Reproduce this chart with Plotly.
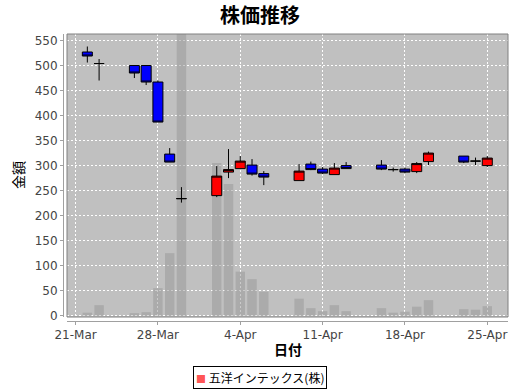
import plotly.graph_objects as go

# ---- data ----
dates = ["2012-03-22", "2012-03-23", "2012-03-26", "2012-03-27", "2012-03-28", "2012-03-29", "2012-03-30",
         "2012-04-02", "2012-04-03", "2012-04-04", "2012-04-05", "2012-04-06",
         "2012-04-09", "2012-04-10", "2012-04-11", "2012-04-12", "2012-04-13",
         "2012-04-16", "2012-04-17", "2012-04-18", "2012-04-19", "2012-04-20",
         "2012-04-23", "2012-04-24", "2012-04-25"]
open_ = [527, 504, 500, 500, 467, 323, 234, 240, 287, 294, 301, 284, 270, 303, 293, 282, 300,
         301, 292, 293, 288, 308, 319, 309, 300]
close = [519, 504, 485, 467, 387, 307, 234, 279, 292, 309, 283, 277, 289, 292, 285, 295, 294,
         293, 292, 287, 304, 325, 307, 309, 315]
high = [538, 513, 500, 500, 470, 335, 257, 299, 333, 319, 313, 289, 303, 308, 297, 305, 307,
        311, 296, 296, 307, 328, 319, 316, 319]
low = [506, 470, 475, 461, 387, 307, 226, 237, 275, 294, 280, 261, 270, 291, 283, 282, 294,
       291, 288, 285, 285, 301, 305, 301, 297]
volume = [1200, 4200, 1000, 1400, 11000, 25000, 150000, 61000, 52600, 17600, 14600, 9600,
          6800, 3000, 1800, 4200, 1800, 3000, 1200, 1600, 3600, 6200, 2600, 2400, 3800]

tick_dates = ["2012-03-21", "2012-03-28", "2012-04-04", "2012-04-11", "2012-04-18", "2012-04-25"]
tick_text = ["21-Mar", "28-Mar", "4-Apr", "11-Apr", "18-Apr", "25-Apr"]
y_ticks = list(range(0, 551, 50))

series_name = "五洋インテックス(株)"
series_color = "#FF5555"
title = "株価推移"
x_title = "日付"
y_title = "金額"

# ---- style ----
price_range = [-2.6, 563]
vol_scale = 200
x_range = ["2012-03-20 06:30", "2012-04-26 18:15"]
DAY = 86400000
tick_font = dict(family="DejaVu Sans", size=12, color="#444444")
cjk = "Noto Sans CJK JP"

fig = go.Figure()

fig.add_trace(go.Bar(
    x=dates, y=volume, width=0.8 * DAY,
    marker=dict(color="rgba(150,150,150,0.5)", line=dict(width=0)),
    showlegend=False, hoverinfo="skip", yaxis="y",
))

fig.add_trace(go.Candlestick(
    x=dates, open=open_, high=high, low=low, close=close, name=series_name,
    increasing=dict(fillcolor="#ff0000", line=dict(color="#000000", width=1)),
    decreasing=dict(fillcolor="#0000ff", line=dict(color="#000000", width=1)),
    whiskerwidth=0, showlegend=False, yaxis="y2",
))

legend_text = (f'<span style="color:{series_color};font-size:10px">■</span> {series_name}')

fig.update_layout(
    width=520, height=390,
    margin=dict(l=63, r=12, t=34, b=69, autoexpand=False),
    paper_bgcolor="white", plot_bgcolor="#c0c0c0",
    title=dict(text=title, x=0.5, xref="container", xanchor="center",
               y=1 - 16 / 390, yref="container", yanchor="middle",
               font=dict(family=cjk, size=20, color="#000000", weight="bold")),
    xaxis=dict(type="date", range=x_range, domain=[4 / 445, 1], anchor="free", position=0,
               tickvals=tick_dates, ticktext=tick_text, tickfont=tick_font,
               showline=True, linecolor="#a0a0a0", linewidth=1,
               ticks="outside", ticklen=3, tickcolor="#a0a0a0",
               showgrid=True, gridcolor="#ffffff", griddash="2px,2px", gridwidth=1,
               rangeslider=dict(visible=False), zeroline=False, automargin=False),
    yaxis=dict(visible=False, range=[price_range[0] * vol_scale, price_range[1] * vol_scale],
               domain=[4 / 287, 1], showgrid=False, automargin=False),
    yaxis2=dict(overlaying="y", side="left", anchor="free", position=0,
                range=price_range, tickvals=y_ticks, tickfont=tick_font,
                showline=True, linecolor="#a0a0a0", linewidth=1,
                ticks="outside", ticklen=3, tickcolor="#a0a0a0",
                showgrid=True, gridcolor="#ffffff", griddash="2px,2px", gridwidth=1,
                zeroline=False, automargin=False),
    showlegend=False,
    boxgap=0.15, boxgroupgap=0,
    shapes=[dict(type="rect", xref="x domain", yref="y domain", x0=0, x1=1, y0=0, y1=1,
                 line=dict(color="#808080", width=1), layer="above")],
    annotations=[
        dict(text=y_title, xref="paper", yref="paper", x=(18 - 63) / 445, y=(321 - 175) / 287,
             showarrow=False, textangle=-90, xanchor="center", yanchor="middle",
             font=dict(family=cjk, size=14, color="#000000")),
        dict(text=x_title, xref="paper", yref="paper", x=(288 - 63) / 445, y=(321 - 349) / 287,
             showarrow=False, xanchor="center", yanchor="middle",
             font=dict(family=cjk, size=14, color="#000000", weight="bold")),
        dict(text=legend_text, xref="paper", yref="paper", x=(260 - 63) / 445, y=(321 - 377.5) / 287,
             showarrow=False, xanchor="center", yanchor="middle",
             bordercolor="#000000", borderwidth=1, borderpad=2, bgcolor="white",
             font=dict(family=cjk, size=12, color="#000000")),
    ],
)

fig.write_html("out.html")
